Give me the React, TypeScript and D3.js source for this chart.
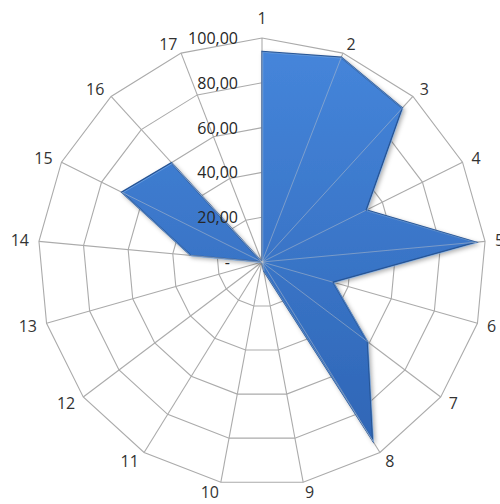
import React from "react";
import * as d3 from "d3";

const categories = ["1","2","3","4","5","6","7","8","9","10","11","12","13","14","15","16","17"];
const values = [94, 98, 93, 52, 96, 33, 59, 94, 4, 0, 0, 0, 0, 32, 70, 60, 0];
const ticks = [0, 20, 40, 60, 80, 100];
const tickLabels = ["-", "20,00", "40,00", "60,00", "80,00", "100,00"];

const W = 500, H = 504;
const cx = 262, cy = 262, R = 224;
const FONT = "'Open Sans', 'Liberation Sans', sans-serif";

export default function App() {
  const n = categories.length;
  const angle = d3.scaleLinear().domain([0, n]).range([0, 2 * Math.PI]);
  const r = d3.scaleLinear().domain([0, 100]).range([0, R]);
  const pt = (i: number, v: number): [number, number] => {
    const a = angle(i);
    return [cx + r(v) * Math.sin(a), cy - r(v) * Math.cos(a)];
  };
  const line = d3.line<[number, number]>().curve(d3.curveLinearClosed);
  const ringPath = (v: number) => line(categories.map((_, i) => pt(i, v))) as string;
  const areaPath = line(values.map((v, i) => pt(i, v))) as string;

  return (
    <div style={{ position: "fixed", left: 0, top: 0 }}>
      <svg width={W} height={H} style={{ display: "block", background: "#fff" }}>
        <defs>
          <linearGradient id="fillGrad" x1="0" y1="0" x2="0" y2="1">
            <stop offset="0" stopColor="#4585da" />
            <stop offset="1" stopColor="#2f66b6" />
          </linearGradient>
          <filter id="shadow" x="-10%" y="-10%" width="130%" height="130%">
            <feDropShadow dx="2" dy="2" stdDeviation="2" floodColor="#000" floodOpacity="0.3" />
          </filter>
        </defs>
        <g>
          {ticks.slice(1).map((t) => (
            <path key={"ring" + t} d={ringPath(t)} fill="none" stroke="#ababab" strokeWidth={1.1} />
          ))}
          {categories.map((_, i) => {
            const [x, y] = pt(i, 100);
            return <line key={"sp" + i} x1={cx} y1={cy} x2={x} y2={y} stroke="#ababab" strokeWidth={1.1} />;
          })}
        </g>
        <path d={areaPath} fill="url(#fillGrad)" stroke="#285596" strokeWidth={1.5} strokeLinejoin="miter" filter="url(#shadow)" />
        <path d={areaPath} fill="none" stroke="#8bbcf2" strokeWidth={1} strokeOpacity={0.5} transform={`translate(0.8,0.8)`} />
        <g>
          {categories.map((_, i) => {
            const [x, y] = pt(i, values[i]);
            return <line key={"spo" + i} x1={cx} y1={cy} x2={x} y2={y} stroke="#c8c8c8" strokeOpacity={0.45} strokeWidth={1} />;
          })}
        </g>
        {ticks.map((t, k) => (
          <text
            key={"tl" + t}
            x={238}
            dx={t === 0 ? -8 : 0}
            y={cy - r(t)}
            textAnchor="end"
            dominantBaseline="central"
            fontFamily={FONT}
            fontSize={16}
            fill="#262626"
          >
            {tickLabels[k]}
          </text>
        ))}
        {categories.map((c, i) => {
          const a = angle(i);
          const s = Math.sin(a), co = Math.cos(a);
          const [vx, vy] = pt(i, 100);
          const anchor = Math.abs(s) < 0.05 ? "middle" : s > 0 ? "start" : "end";
          const x = vx + s * 10;
          const y = vy - co * (Math.abs(s) < 0.05 ? 20 : 10);
          return (
            <text key={"cl" + i} x={x} y={y} textAnchor={anchor} dominantBaseline="central"
              fontFamily={FONT} fontSize={16} fill="#333333">
              {c}
            </text>
          );
        })}
      </svg>
    </div>
  );
}
